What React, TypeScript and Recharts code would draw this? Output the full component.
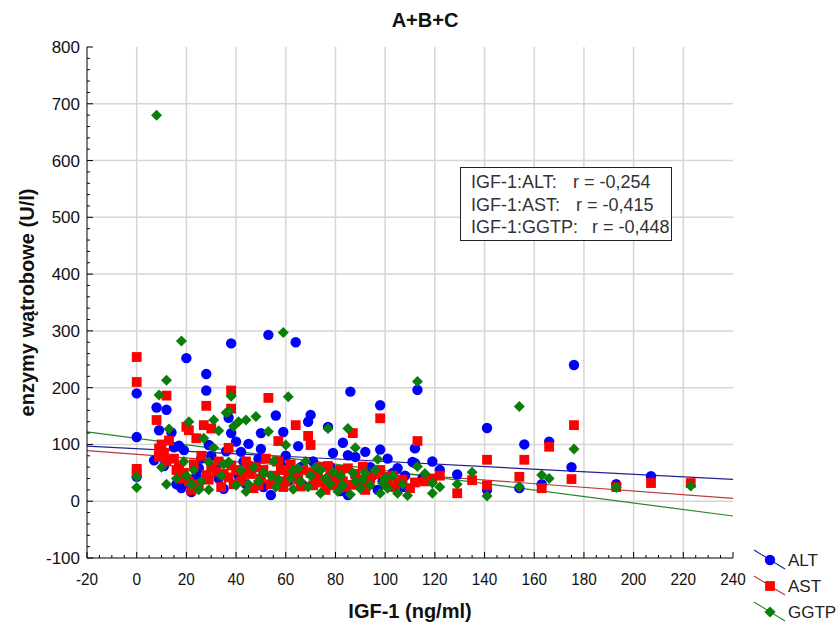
import { ReferenceLine, Scatter, ScatterChart, XAxis, YAxis } from "recharts";

// [IGF-1, enzyme] pairs
const altPoints: [number, number][] = [
  [0, 190], [0, 113], [0, 43], [8, 165], [9, 125], [12, 161], [9, 84], [11, 62], [7, 72],
  [15, 95], [17, 98], [19, 90], [14, 121], [18, 23], [20, 252], [22, 16], [20, 32], [24, 45],
  [28, 224], [28, 195], [29, 99], [26, 75], [30, 80], [32, 60], [37, 147], [38, 278], [38, 120],
  [40, 105], [36, 88], [42, 87], [45, 101], [50, 120], [43, 70], [47, 58], [50, 92], [53, 293],
  [56, 151], [59, 122], [54, 11], [56, 40], [60, 80], [64, 280], [65, 97], [66, 60], [70, 152],
  [69, 140], [72, 45], [77, 131], [78, 60], [80, 30], [83, 103], [85, 81], [85, 11], [86, 193],
  [88, 78], [88, 45], [92, 87], [94, 60], [98, 169], [98, 91], [99, 35], [103, 50], [105, 58],
  [107, 25], [111, 69], [112, 93], [112, 67], [113, 196], [115, 40], [119, 70], [122, 55],
  [129, 47], [141, 129], [141, 20], [154, 23], [156, 100], [163, 30], [166, 105], [175, 60],
  [176, 240], [193, 30], [207, 44],
  [16, 30], [25, 58], [33, 40], [35, 22], [41, 45], [44, 30], [49, 75], [51, 25], [58, 65],
  [61, 35], [67, 28], [71, 70], [74, 38], [79, 85], [82, 18], [90, 30], [95, 45], [97, 20],
  [101, 75], [108, 45],
];

const astPoints: [number, number][] = [
  [0, 254], [0, 210], [0, 52], [0, 57], [8, 143], [9, 93], [9, 78], [10, 100], [11, 85],
  [12, 186], [13, 107], [12, 70], [16, 55], [18, 40], [20, 131], [21, 125], [22, 20], [24, 111],
  [23, 65], [25, 30], [27, 134], [28, 168], [28, 46], [30, 128], [30, 59], [32, 52], [34, 25],
  [37, 94], [37, 42], [38, 195], [38, 163], [38, 63], [40, 55], [42, 35], [44, 70], [46, 48],
  [47, 23], [48, 60], [50, 40], [53, 182], [52, 75], [54, 30], [57, 106], [58, 55], [60, 35],
  [64, 134], [62, 65], [64, 45], [66, 26], [69, 115], [70, 99], [70, 50], [72, 35], [74, 60],
  [76, 20], [78, 45], [80, 38], [82, 55], [84, 25], [87, 120], [87, 29], [88, 48], [91, 61],
  [92, 20], [94, 40], [98, 146], [98, 55], [101, 30], [103, 45], [105, 33], [107, 38], [110, 23],
  [113, 106], [112, 33], [116, 35], [119, 40], [122, 45], [129, 14], [135, 37], [141, 73],
  [141, 28], [154, 43], [156, 73], [163, 23], [166, 96], [175, 39], [176, 134], [193, 25],
  [207, 32], [223, 32],
  [15, 75], [17, 62], [19, 50], [21, 35], [26, 80], [29, 38], [33, 70], [35, 48], [39, 30],
  [43, 50], [45, 62], [49, 28], [51, 55], [55, 45], [57, 70], [59, 25], [61, 50], [65, 38],
  [67, 55], [71, 28], [73, 48], [75, 33], [77, 62], [79, 28], [81, 48], [83, 35], [85, 58],
  [89, 38], [93, 30], [96, 48], [100, 42], [104, 25],
];

const ggtpPoints: [number, number][] = [
  [0, 43], [0, 24], [9, 187], [8, 680], [12, 213], [13, 127], [10, 60], [12, 30], [18, 282],
  [21, 140], [19, 70], [20, 45], [22, 30], [25, 20], [27, 111], [29, 69], [29, 20], [31, 143],
  [31, 94], [33, 124], [36, 156], [37, 158], [38, 185], [39, 132], [37, 69], [40, 28], [41, 140],
  [44, 143], [44, 17], [48, 149], [47, 60], [49, 35], [53, 123], [54, 45], [56, 25], [59, 297],
  [60, 99], [61, 184], [63, 21], [63, 55], [66, 35], [68, 70], [70, 45], [74, 14], [74, 55],
  [77, 128], [78, 30], [81, 17], [82, 45], [85, 128], [86, 12], [88, 94], [88, 35], [90, 22],
  [92, 50], [97, 74], [98, 14], [99, 32], [101, 23], [103, 45], [105, 14], [107, 30], [109, 10],
  [113, 61], [113, 211], [116, 49], [119, 14], [119, 32], [122, 25], [129, 30], [135, 51],
  [141, 9], [154, 167], [154, 25], [163, 46], [166, 40], [176, 92], [193, 24], [223, 27],
  [16, 40], [23, 55], [26, 35], [34, 45], [35, 65], [42, 55], [45, 30], [51, 50], [55, 70],
  [57, 38], [62, 40], [65, 58], [69, 25], [72, 60], [76, 40], [79, 52], [83, 28], [87, 50],
  [91, 38], [94, 28], [96, 55], [100, 40],
];

// regression lines: value at x = -20 and x = 240
const fitX = [-20, 240];
const altFit = [97, 38.5];
const astFit = [89, 5];
const ggtpFit = [122, -26];

const xMajorTicks = [-20, 0, 20, 40, 60, 80, 100, 120, 140, 160, 180, 200, 220, 240];
const yMajorTicks = [-100, 0, 100, 200, 300, 400, 500, 600, 700, 800];

const xAllTicks: number[] = [];
for (let v = -20; v <= 240; v += 5) xAllTicks.push(v);
const yAllTicks: number[] = [];
for (let v = -100; v <= 800; v += 20) yAllTicks.push(v);

const font = "'Liberation Sans', Arial, sans-serif";

const series = [
  { name: "ALT", data: altPoints, fit: altFit, color: "#0000ff", lineColor: "#22228f", shape: "circle" },
  { name: "AST", data: astPoints, fit: astFit, color: "#ff0000", lineColor: "#b83a3a", shape: "square" },
  { name: "GGTP", data: ggtpPoints, fit: ggtpFit, color: "#0a7d0a", lineColor: "#2a862a", shape: "diamond" },
];

function Marker({ cx, cy, shape, color }: { cx: number; cy: number; shape: string; color: string }) {
  if (shape === "circle") return <circle cx={cx} cy={cy} r={5.2} fill={color} />;
  if (shape === "square") return <rect x={cx - 4.9} y={cy - 4.9} width={9.8} height={9.8} fill={color} />;
  const r = 5.5;
  return <polygon points={`${cx},${cy - r} ${cx + r},${cy} ${cx},${cy + r} ${cx - r},${cy}`} fill={color} />;
}

function BottomTick({ x, y, payload }: any) {
  const major = xMajorTicks.includes(payload.value);
  return (
    <g>
      <line x1={x} x2={x} y1={y} y2={y - (major ? 6 : 3)} stroke="#000" />
      {major && (
        <text x={x} y={y + 27} textAnchor="middle" fontSize={17} fontFamily={font} fill="#111" transform={`translate(${x * 0.1} 0) scale(0.9 1)`}>
          {payload.value}
        </text>
      )}
    </g>
  );
}

function TopTick({ x, y, payload }: any) {
  const major = xMajorTicks.includes(payload.value);
  return <line x1={x} x2={x} y1={y} y2={y + (major ? 6 : 3)} stroke="#000" />;
}

function LeftTick({ x, y, payload }: any) {
  const major = yMajorTicks.includes(payload.value);
  return (
    <g>
      <line x1={x} x2={x + (major ? 6 : 3)} y1={y} y2={y} stroke="#000" />
      {major && (
        <text x={x - 7} y={y + 6} textAnchor="end" fontSize={17} fontFamily={font} fill="#111">
          {payload.value}
        </text>
      )}
    </g>
  );
}

function RightTick({ x, y, payload }: any) {
  const major = yMajorTicks.includes(payload.value);
  return <line x1={x} x2={x - (major ? 6 : 3)} y1={y} y2={y} stroke="#000" />;
}

export default function App() {
  return (
    <div style={{ position: "absolute", left: 0, top: 0, width: 839, height: 623, background: "#fff" }}>
      <ScatterChart width={839} height={623} margin={{ top: 47, right: 106, bottom: 0, left: 0 }}>
        <XAxis
          xAxisId="0"
          type="number"
          dataKey="x"
          domain={[-20, 240]}
          ticks={xAllTicks}
          interval={0}
          height={65}
          tickSize={0}
          tickMargin={0}
          tick={<BottomTick />}
          axisLine={{ stroke: "#000" }}
          allowDataOverflow
          label={{
            value: "IGF-1 (ng/ml)",
            position: "insideBottom",
            offset: 5,
            style: { fontFamily: font, fontSize: 20, fontWeight: 700, fill: "#111" },
          }}
        />
        <XAxis
          xAxisId="top"
          orientation="top"
          type="number"
          domain={[-20, 240]}
          ticks={xAllTicks}
          interval={0}
          height={0}
          tickSize={0}
          tickMargin={0}
          tick={<TopTick />}
          axisLine={{ stroke: "#000" }}
          allowDataOverflow
        />
        <YAxis
          yAxisId="0"
          type="number"
          dataKey="y"
          domain={[-100, 800]}
          ticks={yAllTicks}
          interval={0}
          width={87}
          tickSize={0}
          tickMargin={0}
          tick={<LeftTick />}
          axisLine={{ stroke: "#000" }}
          allowDataOverflow
          label={{
            value: "enzymy wątrobowe (U/l)",
            angle: -90,
            position: "insideLeft",
            offset: 27,
            style: { textAnchor: "middle", fontFamily: font, fontSize: 20, fontWeight: 700, fill: "#111" },
          }}
        />
        <YAxis
          yAxisId="right"
          orientation="right"
          type="number"
          domain={[-100, 800]}
          ticks={yAllTicks}
          interval={0}
          width={0}
          tickSize={0}
          tickMargin={0}
          tick={<RightTick />}
          axisLine={{ stroke: "#000" }}
          allowDataOverflow
        />

        {xMajorTicks.slice(1, -1).map((v) => (
          <ReferenceLine key={"gx" + v} x={v} xAxisId="0" yAxisId="0" stroke="#d6d6d6" strokeWidth={1.5} />
        ))}
        {yMajorTicks.slice(1, -1).map((v) => (
          <ReferenceLine key={"gy" + v} y={v} xAxisId="0" yAxisId="0" stroke="#d6d6d6" strokeWidth={1.5} />
        ))}

        {series.map((s) => (
          <Scatter
            key={s.name}
            name={s.name}
            xAxisId="0"
            yAxisId="0"
            data={s.data.map(([x, y]) => ({ x, y }))}
            isAnimationActive={false}
            shape={(p: any) => <Marker cx={p.cx} cy={p.cy} shape={s.shape} color={s.color} />}
          />
        ))}

        {series.map((s) => (
          <ReferenceLine
            key={"fit" + s.name}
            xAxisId="0"
            yAxisId="0"
            segment={[
              { x: fitX[0], y: s.fit[0] },
              { x: fitX[1], y: s.fit[1] },
            ]}
            stroke={s.lineColor}
            strokeWidth={1.2}
          />
        ))}
      </ScatterChart>

      <div
        style={{
          position: "absolute",
          left: 0,
          top: 9,
          width: 850,
          textAlign: "center",
          fontFamily: font,
          fontWeight: 700,
          fontSize: 20,
          color: "#111",
        }}
      >
        A+B+C
      </div>

      <div
        style={{
          position: "absolute",
          left: 460,
          top: 167,
          width: 210,
          height: 72,
          border: "1px solid #222",
          background: "#fff",
          fontFamily: font,
          fontSize: 18,
          color: "#333",
        }}
      >
        {[
          ["IGF-1:ALT:", "r = -0,254", 112],
          ["IGF-1:AST:", "r = -0,415", 115],
          ["IGF-1:GGTP:", "r = -0,448", 131],
        ].map(([label, r, left], i) => (
          <div key={i} style={{ position: "absolute", top: 3 + i * 22.5, left: 10, lineHeight: "22px", whiteSpace: "nowrap" }}>
            {label}
            <span style={{ position: "absolute", left: (left as number) - 10 }}>{r}</span>
          </div>
        ))}
      </div>

      <svg style={{ position: "absolute", left: 745, top: 540 }} width={94} height={83}>
        {series.map((s, i) => {
          const cy = 20 + i * 26;
          return (
            <g key={s.name}>
              <line x1={9} y1={cy - 10} x2={40} y2={cy + 9} stroke={s.lineColor} strokeWidth={1.2} />
              <Marker cx={25} cy={cy} shape={s.shape} color={s.color} />
              <text x={43} y={cy + 6} fontFamily={font} fontSize={17} fill="#222">
                {s.name}
              </text>
            </g>
          );
        })}
      </svg>
    </div>
  );
}
